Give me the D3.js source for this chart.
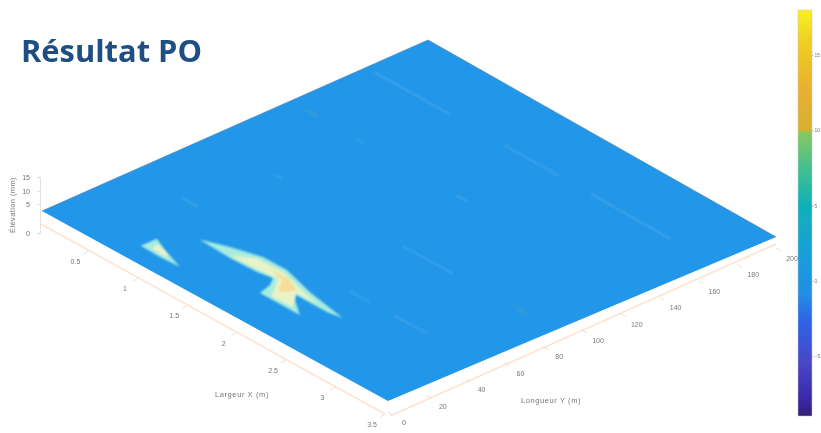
<!DOCTYPE html>
<html><head><meta charset="utf-8">
<script src="https://cdn.jsdelivr.net/npm/d3@7"></script>
<style>html,body{margin:0;padding:0;background:#fff;overflow:hidden}</style>
</head><body><svg id="c" width="821" height="433"></svg>
<script>
// ---- data ----
const widthTicks = [0.5, 1, 1.5, 2, 2.5, 3, 3.5];          // Largeur X (m)
const lengthTicks = [0, 20, 40, 60, 80, 100, 120, 140, 160, 180, 200]; // Longueur Y (m)
const heightTicks = [0, 5, 10, 15];
const colorTicks = [-5, 0, 5, 10, 15];
// colormap: [value, colour]
const colorStops = [[-9,"#33207a"],[-7.9,"#3a28a8"],[-5.4,"#4848c8"],[-2.8,"#2f62e6"],[-0.8,"#2090e4"],[2,"#18a0d8"],[5,"#10b0b8"],[7.4,"#40c090"],[9.85,"#88c860"],[10,"#d8b030"],[12.7,"#e8b030"],[16,"#f0d020"],[18,"#f8f020"]];
const planeColor = "#2196e8";
// raised patches of the surface: [W, L] vertices per level
const patchSmall1 = [[.80,10.2],[.80,18.5],[.95,15],[1.19,10.4],[1.0,9.9]];
const patchSmall2 = [[.88,12],[.86,16],[.98,14],[1.05,11.5]];
const patchMain1 = [[1.0,30.4],[1.21,35.3],[1.46,39.6],[1.70,39.7],[2.03,34.8],[2.445,30.6],[2.31,29.2],[1.965,29.3],[2.22,19.8],[1.817,19.8],[1.78,26.9],[1.72,31.5],[1.588,30],[1.323,29.6]];
const patchMain2 = [[1.3,31],[1.45,37],[1.72,37.5],[2.0,33],[2.2,30.5],[1.98,30.5],[2.1,22],[1.9,21.5],[1.82,27.5],[1.75,32.5],[1.55,31.5],[1.35,31]];
const patchMain3 = [[1.62,35.5],[1.8,35.5],[1.95,32],[1.9,26],[1.85,28],[1.78,33]];
const patchColors = ["#a8ecdf","#eaf3c8","#f6dc98"];
// faint streaks at constant L: [L, W0, W1]
const streaks = [[47,.5,.66],[47,2.19,2.40],[47,2.64,2.98],[86,.68,.75],[86,1.96,2.47],[128,.68,.75],[128,1.68,1.8],[168,.08,.85],[168,1.39,1.95],[168,2.26,3.07]];
const spots = [[128.7,.22],[86.5,3.16]];

// ---- layout ----
const svg = d3.select("#c");
const defs = svg.append("defs");
function blur(id,sd){
  defs.append("filter").attr("id",id).attr("x","-20%").attr("y","-20%").attr("width","140%").attr("height","140%")
    .append("feGaussianBlur").attr("stdDeviation",sd);
}
blur("b1",0.8); blur("b2",1.2); blur("b3",0.45); blur("b4",0.6);

const u = d3.scaleLinear().domain([0,200]).range([0,1]);
const v = d3.scaleLinear().domain([0,3.5]).range([0,1]);
const C = {a:[42,211], b:[388,401], c:[776,237], d:[428,40]}; // L0W0, L0Wmax, LmaxWmax, LmaxW0
function P(L,W){
  const s=u(L), t=v(W);
  return [0,1].map(i=>(1-s)*(1-t)*C.a[i]+(1-s)*t*C.b[i]+s*t*C.c[i]+s*(1-t)*C.d[i]);
}
const line = d3.line();

// colour scale & bar
const cbY = d3.scaleLinear().domain([-9,18]).range([416,10]);
const grad = defs.append("linearGradient").attr("id","cb").attr("x1",0).attr("x2",0).attr("y1",1).attr("y2",0);
grad.selectAll("stop").data(colorStops).join("stop")
  .attr("offset",d=>(d[0]+9)/27).attr("stop-color",d=>d[1]);

// axes (behind plane)
const axisG = svg.append("g").attr("filter","url(#b4)");
const wOff=[-3,13], lOff=[0,11];
axisG.append("path").attr("d",line([[P(0,0)[0]+wOff[0]+2,P(0,0)[1]+wOff[1]],[P(0,3.5)[0]+wOff[0],P(0,3.5)[1]+wOff[1]]]))
  .attr("stroke","#fde3d0").attr("stroke-width",1.6).attr("fill","none");
axisG.append("path").attr("d",line([[P(0,3.5)[0]+lOff[0]+2,P(0,3.5)[1]+lOff[1]+4],[P(200,3.5)[0]+lOff[0],P(200,3.5)[1]+lOff[1]-4]]))
  .attr("stroke","#fde3d0").attr("stroke-width",1.6).attr("fill","none");
axisG.selectAll(".wt").data(widthTicks).join("path").attr("class","wt")
  .attr("d",d=>{const p=P(0,d);return line([[p[0]+wOff[0],p[1]+wOff[1]],[p[0]+wOff[0]-5,p[1]+wOff[1]+3]])})
  .attr("stroke","#e0d8d0").attr("stroke-width",.8);
axisG.selectAll(".lt").data(lengthTicks).join("path").attr("class","lt")
  .attr("d",d=>{const p=P(d,3.5);return line([[p[0]+lOff[0],p[1]+lOff[1]],[p[0]+lOff[0]+5,p[1]+lOff[1]+3]])})
  .attr("stroke","#e0d8d0").attr("stroke-width",.8);

// plane
const planeG = svg.append("g");
const corners = [P(0,0),P(0,3.5),P(200,3.5),P(200,0)];
planeG.append("path").attr("d",line(corners)+"Z").attr("fill",planeColor).attr("filter","url(#b3)");
planeG.append("path").attr("d",line([P(0,0),P(200,0),P(200,3.5)]))
  .attr("fill","none").attr("stroke","#4a86b8").attr("stroke-width",.7).attr("filter","url(#b3)");

// streaks and spots
const sG = planeG.append("g").attr("filter","url(#b1)");
sG.selectAll(".s").data(streaks).join("path").attr("class","s")
  .attr("d",d=>line([P(d[0],d[1]),P(d[0],d[2])]))
  .attr("stroke","#6bb9f0").attr("stroke-width",1.3).attr("opacity",.55).attr("fill","none");
sG.selectAll(".sp").data(spots).join("path").attr("class","sp")
  .attr("d",d=>line([P(d[0],d[1]-.06),P(d[0],d[1]+.06)]))
  .attr("stroke","#4fa8b0").attr("stroke-width",3.5).attr("opacity",.35);

// raised patches
const pG = planeG.append("g");
const levels = [[patchSmall1,0],[patchMain1,0],[patchSmall2,1],[patchMain2,1],[patchMain3,2]];
pG.selectAll("path").data(levels).join("path")
  .attr("d",d=>line(d[0].map(q=>P(q[1],q[0])))+"Z")
  .attr("fill",d=>patchColors[d[1]])
  .attr("filter",d=>d[1]==0?"url(#b1)":"url(#b2)");

// text & ticks
const tG = svg.append("g").attr("filter","url(#b4)").attr("font-family","'Liberation Sans',sans-serif").attr("fill","#777");
tG.selectAll(".wl").data(widthTicks).join("text").attr("class","wl")
  .attr("x",d=>P(0,d)[0]-16).attr("y",d=>P(0,d)[1]+26).attr("text-anchor","middle").attr("font-size",7).text(d=>d);
tG.selectAll(".ll").data(lengthTicks).join("text").attr("class","ll")
  .attr("x",d=>P(d,3.5)[0]+16).attr("y",d=>P(d,3.5)[1]+24).attr("text-anchor","middle").attr("font-size",7).text(d=>d);
tG.append("text").attr("x",242).attr("y",397).attr("text-anchor","middle").attr("font-size",7.5).attr("letter-spacing",.6).text("Largeur X (m)");
tG.append("text").attr("x",551).attr("y",403).attr("text-anchor","middle").attr("font-size",7.5).attr("letter-spacing",.6).text("Longueur Y (m)");
tG.append("text").attr("transform","translate(15,205) rotate(-90)").attr("text-anchor","middle").attr("font-size",7.5).attr("letter-spacing",.4).text("Élévation (mm)");

// vertical (height) axis
const zY = d3.scaleLinear().domain(heightTicks).range([233,204,191,177]);
const zG = svg.append("g").attr("transform","translate(40,0)").attr("filter","url(#b4)")
  .call(d3.axisLeft(zY).tickValues(heightTicks).tickSize(3).tickPadding(7));
zG.selectAll("text").attr("font-family","'Liberation Sans',sans-serif").attr("font-size",7).attr("fill","#777");
zG.selectAll("line,path").attr("stroke","#dcdcdc").attr("stroke-width",.8);

// colour bar
const barG = svg.append("g");
barG.append("rect").attr("x",798).attr("y",cbY(18)).attr("width",14).attr("height",cbY(-9)-cbY(18))
  .attr("fill","url(#cb)").attr("stroke","#c8c8c8").attr("stroke-width",.5).attr("filter","url(#b3)");
const cbG = svg.append("g").attr("transform","translate(812,0)").attr("filter","url(#b4)")
  .call(d3.axisRight(cbY).tickValues(colorTicks).tickSize(1.5).tickPadding(1));
cbG.selectAll("text").attr("font-family","'Liberation Sans',sans-serif").attr("font-size",5).attr("fill","#777");
cbG.selectAll("line").attr("stroke","#aaa").attr("stroke-width",.8);
cbG.select("path").attr("stroke","none");

// title
svg.append("text").attr("x",21).attr("y",62).attr("font-family","'Open Sans',sans-serif").attr("font-weight",700)
  .attr("font-size",30).attr("fill","#1f4e82").attr("textLength",181).attr("lengthAdjust","spacingAndGlyphs").text("Résultat PO");
</script></body></html>
